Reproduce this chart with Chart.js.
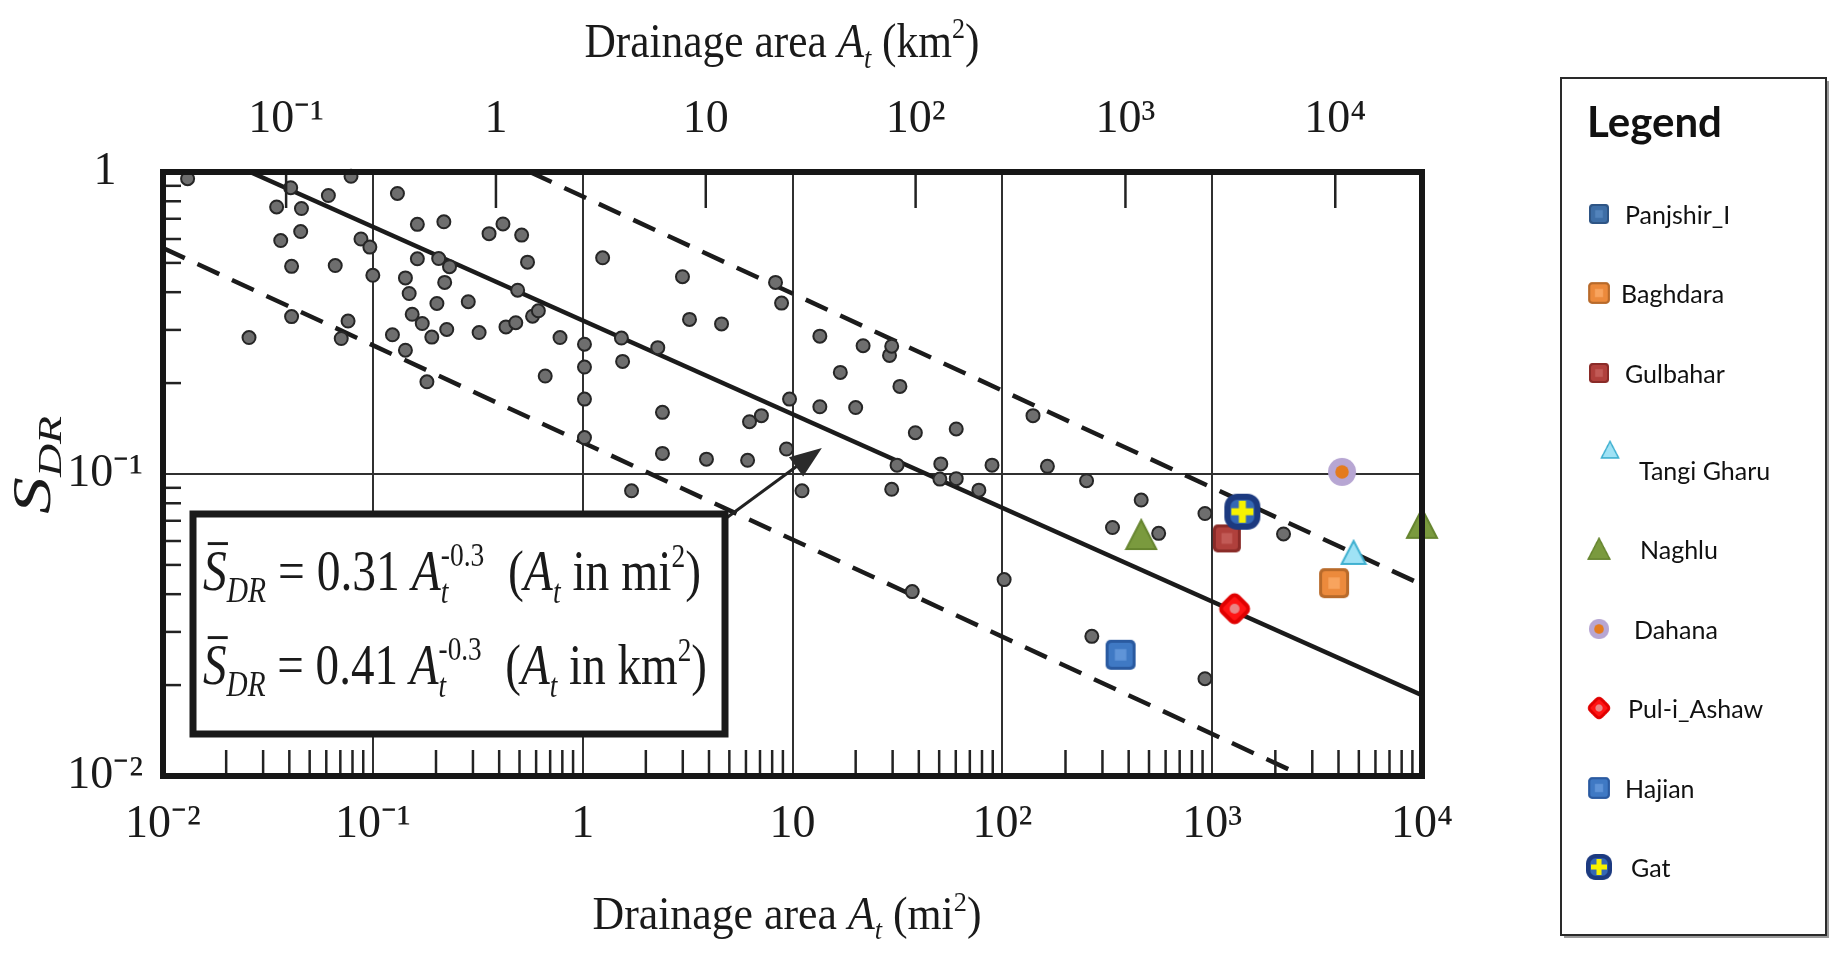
<!DOCTYPE html>
<html>
<head>
<meta charset="utf-8">
<script src="https://cdn.jsdelivr.net/npm/chart.js@4.4.1/dist/chart.umd.min.js"></script>
<style>
  html, body { margin: 0; padding: 0; background: #fff; }
  #wrap { width: 1833px; height: 954px; }
</style>
</head>
<body>
<div id="wrap"><canvas id="chart" width="1833" height="954"></canvas></div>
<script>
const dotArea = [
  0.0131, 0.0406, 0.0348, 0.0457, 0.0614, 0.0787, 0.0364, 0.0453, 0.0878, 0.0968,
  0.041, 0.0662, 0.100, 0.041, 0.0257, 0.0762, 0.0707, 0.131, 0.163, 0.218,
  0.163, 0.206, 0.232, 0.220, 0.143, 0.149, 0.202, 0.154, 0.172, 0.124,
  0.191, 0.225, 0.143, 0.181, 0.358, 0.417, 0.512, 0.546, 0.285, 0.490,
  0.321, 0.431, 0.480, 0.577, 0.615, 0.780, 0.663, 1.02, 1.02, 1.02,
  1.245, 1.53, 1.55, 2.28, 2.99, 3.23, 4.59, 1.02, 2.40, 2.40,
  3.89, 6.11, 1.71, 6.24, 7.11, 9.68, 9.36, 11.1, 13.5, 16.9,
  13.5, 20.0, 8.30, 8.87, 21.7, 29.0, 29.7, 32.5, 38.5, 60.3,
  31.5, 50.9, 60.3, 50.4, 89.3, 29.7, 77.3, 140, 164, 252,
  459, 335, 556, 924, 102, 2188, 267, 924, 37.2
];
const dotSdr = [
  0.95, 0.887, 0.766, 0.757, 0.836, 0.968, 0.593, 0.635, 0.600, 0.564,
  0.487, 0.490, 0.455, 0.332, 0.283, 0.321, 0.281, 0.849, 0.671, 0.684,
  0.516, 0.517, 0.486, 0.431, 0.446, 0.396, 0.367, 0.338, 0.315, 0.289,
  0.284, 0.301, 0.257, 0.202, 0.625, 0.673, 0.618, 0.503, 0.372, 0.406,
  0.294, 0.307, 0.317, 0.333, 0.347, 0.283, 0.211, 0.269, 0.226, 0.177,
  0.520, 0.282, 0.236, 0.262, 0.450, 0.325, 0.314, 0.132, 0.160, 0.117,
  0.112, 0.111, 0.088, 0.149, 0.156, 0.177, 0.121, 0.088, 0.286, 0.217,
  0.167, 0.166, 0.431, 0.368, 0.266, 0.247, 0.265, 0.195, 0.137, 0.141,
  0.107, 0.108, 0.0965, 0.0962, 0.107, 0.089, 0.0884, 0.156, 0.106, 0.095,
  0.082, 0.0665, 0.0636, 0.074, 0.0447, 0.0633, 0.029, 0.021, 0.0408
];

// Afghan stations
const stationNames = ["Panjshir_I", "Baghdara", "Gulbahar", "Tangi Gharu", "Naghlu", "Dahana", "Pul-i_Ashaw", "Hajian", "Gat"];
const stationArea = [[366], [3810], [1175], [4721], [459, 10000], [4159], [1279], [366], [1393]];
const stationSdr = [[0.0252], [0.0435], [0.0612], [0.0548], [0.0628, 0.0684], [0.1016], [0.0358], [0.0252], [0.075]];

// fitted line and envelope, end points
const meanArea = [0.026, 10000];
const meanSdr = [1, 0.0185];
const upperArea = [0.56, 10000];
const upperSdr = [1, 0.043];
const lowerArea = [0.01, 2710];
const lowerSdr = [0.56, 0.01];

// axes
const miTicks = [0.01, 0.1, 1, 10, 100, 1000, 10000];
const miTickLabels = ["10⁻²", "10⁻¹", "1", "10", "10²", "10³", "10⁴"];
const kmTicks = [0.1, 1, 10, 100, 1000, 10000];
const kmTickLabels = ["10⁻¹", "1", "10", "10²", "10³", "10⁴"];
const yTicks = [0.01, 0.1, 1];
const yTickLabels = ["10⁻²", "10⁻¹", "1"];
const KM2_PER_MI2 = 2.59;
const MINOR = [2, 3, 4, 5, 6, 7, 8, 9];

const SERIF = '"Liberation Serif", "Times New Roman", serif';
const SANS = 'Lato, "Open Sans", sans-serif';

// ---- marker images ----
function marker(size, paint) {
  const c = document.createElement("canvas");
  c.width = size;
  c.height = size;
  paint(c.getContext("2d"), size / 2, size);
  return c;
}
function squareMarker(size, edge, fill, core) {
  return marker(size, (g, h, s) => {
    g.fillStyle = edge;
    g.beginPath(); g.roundRect(1, 1, s - 2, s - 2, s * 0.16); g.fill();
    g.fillStyle = fill;
    g.beginPath(); g.roundRect(4, 4, s - 8, s - 8, s * 0.1); g.fill();
    g.fillStyle = core;
    g.fillRect(s * 0.32, s * 0.32, s * 0.36, s * 0.36);
  });
}
function triMarker(size, fill, edge) {
  return marker(size, (g, h, s) => {
    g.beginPath();
    g.moveTo(h, 2); g.lineTo(s - 2, s - 3); g.lineTo(2, s - 3); g.closePath();
    g.fillStyle = fill; g.fill();
    g.lineWidth = 2; g.strokeStyle = edge; g.stroke();
  });
}
const dahanaMarker = marker(30, (g, h) => {
  g.fillStyle = "#b7a6d3";
  g.beginPath(); g.arc(h, h, h - 1, 0, 2 * Math.PI); g.fill();
  g.fillStyle = "#e47b1e";
  g.beginPath(); g.arc(h, h, h * 0.45, 0, 2 * Math.PI); g.fill();
});
const puliMarker = marker(38, (g, h) => {
  g.translate(h, h);
  g.rotate(Math.PI / 4);
  g.fillStyle = "#ff1414";
  g.strokeStyle = "#e00000";
  g.lineWidth = 4;
  g.beginPath(); g.roundRect(-11, -11, 22, 22, 5); g.fill(); g.stroke();
  g.rotate(-Math.PI / 4);
  g.fillStyle = "#ea8585";
  g.beginPath(); g.arc(0, 0, 5, 0, 2 * Math.PI); g.fill();
});
const gatMarker = marker(40, (g, h) => {
  g.fillStyle = "#1c3a80";
  g.beginPath(); g.roundRect(2, 2, 36, 36, 13); g.fill();
  g.fillStyle = "#3467b5";
  g.beginPath(); g.roundRect(8, 8, 24, 24, 7); g.fill();
  g.fillStyle = "#f7f200";
  g.fillRect(h - 3.5, h - 11, 7, 22);
  g.fillRect(h - 11, h - 3.5, 22, 7);
});
const stationMarkers = [
  squareMarker(30, "#2e5585", "#3e6ea6", "#5283bb"),
  squareMarker(32, "#b86a2a", "#ec8a3c", "#f8a45e"),
  squareMarker(30, "#8a2b28", "#b0403c", "#c25a56"),
  triMarker(28, "#9fe2f5", "#3fb0d0"),
  triMarker(34, "#7a9a3e", "#66852f"),
  dahanaMarker,
  puliMarker,
  squareMarker(32, "#2a5aa0", "#3f79c4", "#5f94d8"),
  gatMarker
];

// ---- datasets ----
const datasets = [];
stationNames.forEach((name, i) => {
  datasets.push({
    label: name,
    data: stationArea[i].map((a, j) => ({ x: a, y: stationSdr[i][j] })),
    pointStyle: stationMarkers[i],
    pointRadius: 15,
    clip: false,
    order: stationNames.length - i
  });
});
datasets.push({
  label: "data",
  data: dotArea.map((a, i) => ({ x: a, y: dotSdr[i] })),
  pointStyle: "circle",
  pointRadius: 6.5,
  backgroundColor: "#6e6e6e",
  borderColor: "#262626",
  borderWidth: 2,
  clip: false,
  order: 20
});
function lineSet(label, xs, ys, dash) {
  return {
    label: label,
    data: xs.map((a, i) => ({ x: a, y: ys[i] })),
    showLine: true,
    fill: false,
    borderColor: "#1b1b1b",
    borderWidth: 4.5,
    borderDash: dash,
    pointRadius: 0,
    order: 30
  };
}
datasets.push(lineSet("mean", meanArea, meanSdr, []));
datasets.push(lineSet("upper", upperArea, upperSdr, [24, 14]));
datasets.push(lineSet("lower", lowerArea, lowerSdr, [24, 14]));

// ---- rich text (sub/superscripts) ----
function drawRich(ctx, parts, x, y, base, align, targetW) {
  let cur = 0, prevStart = 0;
  const items = [];
  for (const p of parts) {
    const size = base * (p.sz || 1);
    const font = (p.it ? "italic " : "") + size.toFixed(1) + "px " + SERIF;
    ctx.font = font;
    const w = ctx.measureText(p.t).width;
    const sx = p.stack ? prevStart : cur;
    items.push({ p: p, sx: sx, w: w, font: font });
    if (p.stack) cur = Math.max(cur, sx + w);
    else { prevStart = sx; cur = sx + w; }
  }
  const k = targetW ? targetW / cur : 1;
  ctx.save();
  ctx.translate(x - (align === "center" ? (cur * k) / 2 : 0), y);
  ctx.scale(k, 1);
  ctx.textAlign = "left";
  ctx.textBaseline = "alphabetic";
  for (const it of items) {
    ctx.font = it.font;
    ctx.fillText(it.p.t, it.sx, (it.p.dy || 0) * base);
    if (it.p.bar) {
      ctx.lineWidth = base * 0.05;
      ctx.beginPath();
      ctx.moveTo(it.sx + it.w * 0.2, -base * 0.8);
      ctx.lineTo(it.sx + it.w * 1.05, -base * 0.8);
      ctx.stroke();
    }
  }
  ctx.restore();
}
const areaTitle = (unit) => [
  { t: "Drainage area " }, { t: "A", it: true }, { t: "t", it: true, sz: 0.6, dy: 0.22 },
  { t: " (" + unit }, { t: "2", sz: 0.6, dy: -0.4 }, { t: ")" }
];
const eqParts = (coef, unit) => [
  { t: "S", it: true, bar: true },
  { t: "DR", it: true, sz: 0.62, dy: 0.2 },
  { t: " = " + coef + " " },
  { t: "A", it: true },
  { t: "t", it: true, sz: 0.58, dy: 0.22 },
  { t: "-0.3", sz: 0.58, dy: -0.42, stack: true },
  { t: "  (" },
  { t: "A", it: true },
  { t: "t", it: true, sz: 0.58, dy: 0.22 },
  { t: " in " + unit },
  { t: "2", sz: 0.58, dy: -0.4 },
  { t: ")" }
];

// annotation layout
const EQ_BOX = { x: 193, y: 514, w: 532, h: 220 };
const ARROW_TIP = { x: 13.8, y: 0.122 };
const LEGEND_BOX = { x: 1561, y: 78, w: 265, h: 857 };
const LEGEND_ROW_Y = [214, 293, 373, 470, 549, 629, 708, 788, 867];
const LEGEND_TEXT_X = [1625, 1621, 1625, 1639, 1640, 1634, 1628, 1625, 1631];

function seg(ctx, x1, y1, x2, y2) {
  ctx.beginPath(); ctx.moveTo(x1, y1); ctx.lineTo(x2, y2); ctx.stroke();
}

const decor = {
  id: "decor",
  afterDatasetsDraw(chart) {
    const { ctx, chartArea: a, scales } = chart;
    ctx.save();
    ctx.strokeStyle = "#222";
    ctx.lineWidth = 2.5;
    // minor ticks, inside the frame
    for (let d = -2; d < 4; d++) {
      for (const m of MINOR) {
        const x = scales.x.getPixelForValue(m * Math.pow(10, d));
        seg(ctx, x, a.bottom, x, a.bottom - 26);
      }
    }
    for (let d = -2; d < 0; d++) {
      for (const m of MINOR) {
        const y = scales.y.getPixelForValue(m * Math.pow(10, d));
        seg(ctx, a.left, y, a.left + 18, y);
      }
    }
    for (const v of kmTicks) {
      const x = scales.x2.getPixelForValue(v);
      seg(ctx, x, a.top, x, a.top + 36);
    }
    // frame
    ctx.strokeStyle = "#161616";
    ctx.lineWidth = 6;
    ctx.strokeRect(a.left, a.top, a.width, a.height);

    // equation box and arrow
    const b = EQ_BOX;
    const tx = scales.x.getPixelForValue(ARROW_TIP.x);
    const ty = scales.y.getPixelForValue(ARROW_TIP.y);
    const sx = b.x + b.w, sy = b.y + 5;
    const ang = Math.atan2(ty - sy, tx - sx);
    ctx.strokeStyle = "#222";
    ctx.lineWidth = 3;
    seg(ctx, sx, sy, tx - 26 * Math.cos(ang), ty - 26 * Math.sin(ang));
    ctx.fillStyle = "#2a2a2a";
    ctx.beginPath();
    ctx.moveTo(tx, ty);
    ctx.lineTo(tx - 32 * Math.cos(ang) + 12 * Math.sin(ang), ty - 32 * Math.sin(ang) - 12 * Math.cos(ang));
    ctx.lineTo(tx - 32 * Math.cos(ang) - 12 * Math.sin(ang), ty - 32 * Math.sin(ang) + 12 * Math.cos(ang));
    ctx.closePath();
    ctx.fill();
    ctx.fillStyle = "#fff";
    ctx.fillRect(b.x, b.y, b.w, b.h);
    ctx.strokeStyle = "#1a1a1a";
    ctx.lineWidth = 7;
    ctx.strokeRect(b.x, b.y, b.w, b.h);
    ctx.fillStyle = "#1a1a1a";
    ctx.strokeStyle = "#1a1a1a";
    drawRich(ctx, eqParts("0.31", "mi"), 203, 590, 58, "left", 498);
    drawRich(ctx, eqParts("0.41", "km"), 203, 684, 58, "left", 504);
    ctx.restore();
  },
  afterDraw(chart) {
    const ctx = chart.ctx;
    ctx.save();
    ctx.fillStyle = "#1a1a1a";
    ctx.strokeStyle = "#1a1a1a";
    drawRich(ctx, areaTitle("km"), 782, 57, 48, "center", 395);
    drawRich(ctx, areaTitle("mi"), 787, 929, 46, "center", 389);
    ctx.save();
    ctx.translate(50, 465);
    ctx.rotate(-Math.PI / 2);
    drawRich(ctx, [{ t: "S", it: true }, { t: "DR", it: true, sz: 0.62, dy: 0.2 }], 0, 0, 54, "center", 98);
    ctx.restore();

    // legend
    const L = LEGEND_BOX;
    ctx.fillStyle = "#9a9a9a";
    ctx.fillRect(L.x + 3, L.y + 3, L.w, L.h);
    ctx.fillStyle = "#fff";
    ctx.fillRect(L.x, L.y, L.w, L.h);
    ctx.strokeStyle = "#2a2a2a";
    ctx.lineWidth = 2;
    ctx.strokeRect(L.x, L.y, L.w, L.h);
    ctx.fillStyle = "#111";
    ctx.textAlign = "left";
    ctx.textBaseline = "alphabetic";
    ctx.font = "bold 42px " + SANS;
    ctx.fillText("Legend", 1587, 137);
    ctx.font = "25px " + SANS;
    ctx.textBaseline = "middle";
    stationNames.forEach((name, i) => {
      const img = stationMarkers[i];
      const s = 0.72;
      const mx = i === 3 ? 1610 : 1599;
      const my = i === 3 ? LEGEND_ROW_Y[i] - 20 : LEGEND_ROW_Y[i];
      ctx.drawImage(img, mx - (img.width * s) / 2, my - (img.height * s) / 2, img.width * s, img.height * s);
      ctx.fillText(name, LEGEND_TEXT_X[i], LEGEND_ROW_Y[i] + 2);
    });
    ctx.restore();
  }
};

const tickFont = { family: SERIF, size: 46 };

new Chart(document.getElementById("chart"), {
  type: "scatter",
  data: { datasets: datasets },
  options: {
    responsive: false,
    animation: false,
    events: [],
    layout: { padding: { left: 0, right: 411, top: 0, bottom: 0 } },
    plugins: { legend: { display: false }, tooltip: { enabled: false } },
    scales: {
      x: {
        type: "logarithmic",
        position: "bottom",
        min: 0.01,
        max: 10000,
        afterBuildTicks: (s) => { s.ticks = miTicks.map((v) => ({ value: v })); },
        afterFit: (s) => { s.height = 178; },
        ticks: { callback: (v, i) => miTickLabels[i], autoSkip: false, maxRotation: 0, padding: 21, color: "#1a1a1a", font: tickFont },
        grid: { color: "#303030", lineWidth: 2, drawTicks: false },
        border: { display: false }
      },
      x2: {
        type: "logarithmic",
        position: "top",
        min: 0.01 * KM2_PER_MI2,
        max: 10000 * KM2_PER_MI2,
        afterBuildTicks: (s) => { s.ticks = kmTicks.map((v) => ({ value: v })); },
        afterFit: (s) => { s.height = 172; },
        ticks: { callback: (v, i) => kmTickLabels[i], autoSkip: false, maxRotation: 0, padding: 24, color: "#1a1a1a", font: tickFont },
        grid: { display: false, drawTicks: false },
        border: { display: false }
      },
      y: {
        type: "logarithmic",
        position: "left",
        min: 0.01,
        max: 1,
        afterBuildTicks: (s) => { s.ticks = yTicks.map((v) => ({ value: v })); },
        afterFit: (s) => { s.width = 163; },
        ticks: { callback: (v, i) => yTickLabels[i], autoSkip: false, padding: 20, crossAlign: "center", color: "#1a1a1a", font: tickFont },
        grid: { color: "#303030", lineWidth: 2, drawTicks: false },
        border: { display: false }
      }
    }
  },
  plugins: [decor]
});
</script>
</body>
</html>
